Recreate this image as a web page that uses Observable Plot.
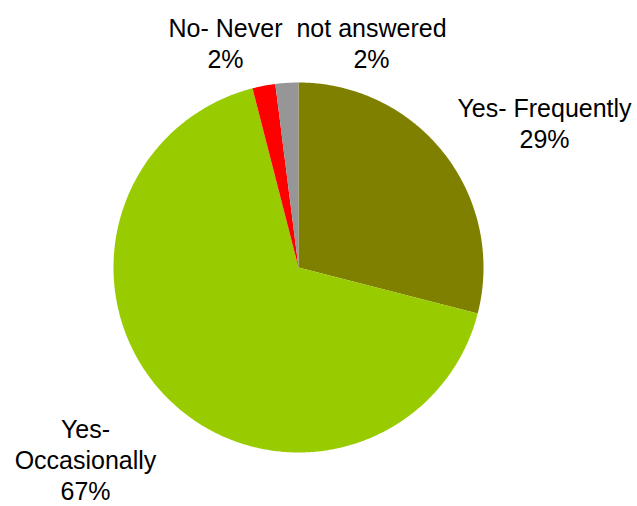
<!DOCTYPE html>
<html>
<head>
<meta charset="utf-8">
<script src="https://cdn.jsdelivr.net/npm/d3@7"></script>
<script src="https://cdn.jsdelivr.net/npm/@observablehq/plot@0.6"></script>
<style>
  html, body { margin: 0; padding: 0; background: #fff; }
  #chart svg { display: block; }
</style>
</head>
<body>
<div id="chart"></div>
<script>
// Data
const categories = ["Yes- Frequently", "Yes- Occasionally", "No- Never", "not answered"];
const labelText = ["Yes- Frequently", "Yes-\nOccasionally", "No- Never", "not answered"];
const values = [29, 67, 2, 2];
const colors = ["#808000", "#99CC00", "#FF0000", "#969696"];

// Layout (pixel-like units, origin at pie centre, y up)
const W = 637, H = 506;
const R = 185;
const cx = 298, cy = 267;
const labelPos = [[246, 173], [-213, -148], [-73, 253], [73, 253]];

const pie = d3.pie().sort(null).value(d => d.value);
const arcs = pie(categories.map((c, i) => ({cat: c, value: values[i]})));

const polys = [];
arcs.forEach(a => {
  const steps = Math.max(2, Math.ceil((a.endAngle - a.startAngle) / 0.01));
  polys.push({cat: a.data.cat, x: 0, y: 0});
  for (let k = 0; k <= steps; k++) {
    const t = a.startAngle + (a.endAngle - a.startAngle) * k / steps;
    polys.push({cat: a.data.cat, x: R * Math.sin(t), y: R * Math.cos(t)});
  }
});

const labels = categories.map((c, i) => ({
  text: labelText[i] + "\n" + values[i] + "%",
  x: labelPos[i][0],
  y: labelPos[i][1]
}));

const chart = Plot.plot({
  width: W,
  height: H,
  margin: 0,
  x: {domain: [-cx, W - cx], axis: null},
  y: {domain: [-(H - cy), cy], axis: null},
  color: {domain: categories, range: colors},
  style: {fontFamily: "'Liberation Sans', Arial, sans-serif", background: "#fff"},
  marks: [
    Plot.line(polys, {x: "x", y: "y", z: "cat", fill: "cat", stroke: "none", curve: "linear-closed"}),
    Plot.text(labels, {x: "x", y: "y", text: "text", fontSize: 25, lineHeight: 1.25, lineAnchor: "top", textAnchor: "middle", fill: "#000"})
  ]
});
document.getElementById("chart").appendChild(chart);
</script>
</body>
</html>
